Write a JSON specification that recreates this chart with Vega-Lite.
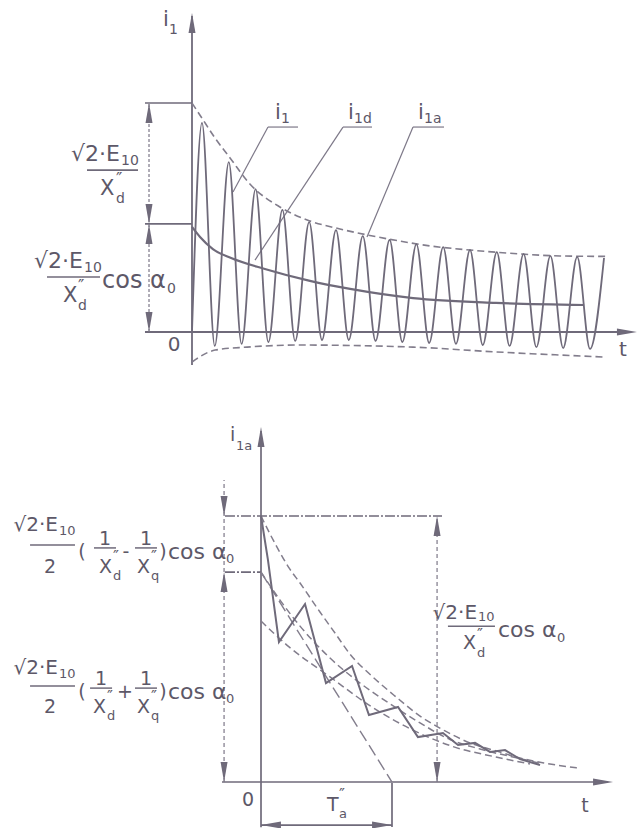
{
  "$schema": "https://vega.github.io/schema/vega-lite/v6.json",
  "padding": 0,
  "spacing": 0,
  "background": "white",
  "config": {"view": {"stroke": null}},
  "resolve": {"scale": {"x": "independent", "y": "independent"}},
  "datasets": {
    "top_curves": [
      {"curve": "i1", "t": 0, "i": 0},
      {"curve": "i1", "t": 0.373, "i": 0.913}, {"curve": "i1", "t": 0.85, "i": -0.061},
      {"curve": "i1", "t": 1.373, "i": 0.742}, {"curve": "i1", "t": 1.85, "i": -0.052},
      {"curve": "i1", "t": 2.373, "i": 0.624}, {"curve": "i1", "t": 2.85, "i": -0.044},
      {"curve": "i1", "t": 3.373, "i": 0.533}, {"curve": "i1", "t": 3.85, "i": -0.039},
      {"curve": "i1", "t": 4.373, "i": 0.48}, {"curve": "i1", "t": 4.85, "i": -0.035},
      {"curve": "i1", "t": 5.373, "i": 0.445}, {"curve": "i1", "t": 5.85, "i": -0.035},
      {"curve": "i1", "t": 6.373, "i": 0.419}, {"curve": "i1", "t": 6.85, "i": -0.039},
      {"curve": "i1", "t": 7.373, "i": 0.402}, {"curve": "i1", "t": 7.85, "i": -0.044},
      {"curve": "i1", "t": 8.373, "i": 0.384}, {"curve": "i1", "t": 8.85, "i": -0.048},
      {"curve": "i1", "t": 9.373, "i": 0.371}, {"curve": "i1", "t": 9.85, "i": -0.052},
      {"curve": "i1", "t": 10.373, "i": 0.358}, {"curve": "i1", "t": 10.85, "i": -0.057},
      {"curve": "i1", "t": 11.373, "i": 0.349}, {"curve": "i1", "t": 11.85, "i": -0.061},
      {"curve": "i1", "t": 12.373, "i": 0.341}, {"curve": "i1", "t": 12.85, "i": -0.066},
      {"curve": "i1", "t": 13.373, "i": 0.332}, {"curve": "i1", "t": 13.85, "i": -0.07},
      {"curve": "i1", "t": 14.373, "i": 0.328}, {"curve": "i1", "t": 14.85, "i": -0.074},
      {"curve": "i1", "t": 15.373, "i": 0.323},
      {"curve": "envelope_upper", "t": 0, "i": 1.0}, {"curve": "envelope_upper", "t": 0.37, "i": 0.934},
      {"curve": "envelope_upper", "t": 0.86, "i": 0.847}, {"curve": "envelope_upper", "t": 1.42, "i": 0.76},
      {"curve": "envelope_upper", "t": 2.16, "i": 0.646}, {"curve": "envelope_upper", "t": 3.28, "i": 0.546},
      {"curve": "envelope_upper", "t": 4.4, "i": 0.485}, {"curve": "envelope_upper", "t": 5.52, "i": 0.45},
      {"curve": "envelope_upper", "t": 6.53, "i": 0.424}, {"curve": "envelope_upper", "t": 7.76, "i": 0.397},
      {"curve": "envelope_upper", "t": 8.88, "i": 0.376}, {"curve": "envelope_upper", "t": 10.37, "i": 0.358},
      {"curve": "envelope_upper", "t": 12.24, "i": 0.341}, {"curve": "envelope_upper", "t": 13.73, "i": 0.332},
      {"curve": "envelope_upper", "t": 15.52, "i": 0.33},
      {"curve": "envelope_lower", "t": 0, "i": -0.131}, {"curve": "envelope_lower", "t": 0.86, "i": -0.079},
      {"curve": "envelope_lower", "t": 2.05, "i": -0.066}, {"curve": "envelope_lower", "t": 4.03, "i": -0.057},
      {"curve": "envelope_lower", "t": 8.25, "i": -0.066}, {"curve": "envelope_lower", "t": 11.34, "i": -0.087},
      {"curve": "envelope_lower", "t": 15.34, "i": -0.109},
      {"curve": "i1a", "t": 0, "i": 0.459}, {"curve": "i1a", "t": 0.3, "i": 0.415},
      {"curve": "i1a", "t": 0.78, "i": 0.362}, {"curve": "i1a", "t": 1.46, "i": 0.323},
      {"curve": "i1a", "t": 2.72, "i": 0.275}, {"curve": "i1a", "t": 4.4, "i": 0.223},
      {"curve": "i1a", "t": 5.9, "i": 0.188}, {"curve": "i1a", "t": 8.25, "i": 0.148},
      {"curve": "i1a", "t": 11.34, "i": 0.127}, {"curve": "i1a", "t": 14.63, "i": 0.118}
    ],
    "top_lines": [
      {"kind": "axis", "t": 0, "i": -0.144, "t2": 0, "i2": 1.38},
      {"kind": "axis", "t": -1.754, "i": 0, "t2": 16.3, "i2": 0},
      {"kind": "reference", "t": -1.754, "i": 1, "t2": 0, "i2": 1},
      {"kind": "reference", "t": -1.754, "i": 0.472, "t2": 0, "i2": 0.472},
      {"kind": "dimension", "t": -1.604, "i": 0, "t2": -1.604, "i2": 1},
      {"kind": "leader", "t": 2.836, "i": 0.895, "t2": 1.53, "i2": 0.611},
      {"kind": "leader", "t": 5.634, "i": 0.895, "t2": 2.351, "i2": 0.314},
      {"kind": "leader", "t": 8.246, "i": 0.895, "t2": 6.53, "i2": 0.415},
      {"kind": "leader", "t": 2.836, "i": 0.895, "t2": 3.955, "i2": 0.895},
      {"kind": "leader", "t": 5.634, "i": 0.895, "t2": 6.716, "i2": 0.895},
      {"kind": "leader", "t": 8.246, "i": 0.895, "t2": 9.403, "i2": 0.895},
      {"kind": "fraction", "t": -3.918, "i": 0.707, "t2": -2.015, "i2": 0.707},
      {"kind": "fraction", "t": -5.41, "i": 0.24, "t2": -3.433, "i2": 0.24}
    ],
    "top_arrows": [
      {"dir": "up", "t": -1.604, "i": 0.956},
      {"dir": "up", "t": -1.604, "i": 0.428},
      {"dir": "up", "t": 0, "i": 1.349},
      {"dir": "down", "t": -1.604, "i": 0.515},
      {"dir": "down", "t": -1.604, "i": 0.044},
      {"dir": "right", "t": 16.23, "i": 0}
    ],
    "top_text": [
      {"part": "numerator", "t": -2.687, "i": 0.777, "label": "√2·E"},
      {"part": "numerator", "t": -4.067, "i": 0.31, "label": "√2·E"},
      {"part": "sub", "t": -2.649, "i": 0.747, "label": "10"},
      {"part": "sub", "t": -4.03, "i": 0.279, "label": "10"},
      {"part": "sub", "t": -2.836, "i": 0.581, "label": "d"},
      {"part": "sub", "t": -4.254, "i": 0.114, "label": "d"},
      {"part": "sub", "t": -0.933, "i": 0.188, "label": "0"},
      {"part": "sub", "t": -0.858, "i": 1.319, "label": "1"},
      {"part": "sub", "t": 3.321, "i": 0.93, "label": "1"},
      {"part": "sub", "t": 6.045, "i": 0.93, "label": "1d"},
      {"part": "sub", "t": 8.657, "i": 0.93, "label": "1a"},
      {"part": "prime", "t": -2.836, "i": 0.664, "label": "″"},
      {"part": "prime", "t": -4.254, "i": 0.197, "label": "″"},
      {"part": "symbol", "t": -3.433, "i": 0.624, "label": "X"},
      {"part": "symbol", "t": -4.813, "i": 0.157, "label": "X"},
      {"part": "symbol", "t": -1.082, "i": 1.362, "label": "i"},
      {"part": "symbol", "t": 3.097, "i": 0.956, "label": "i"},
      {"part": "symbol", "t": 5.821, "i": 0.956, "label": "i"},
      {"part": "symbol", "t": 8.433, "i": 0.956, "label": "i"},
      {"part": "function", "t": -3.358, "i": 0.223, "label": "cos α"},
      {"part": "centered", "t": -0.672, "i": -0.057, "label": "0"},
      {"part": "centered", "t": 16.08, "i": -0.079, "label": "t"}
    ],
    "bottom_curves": [
      {"curve": "i1a", "t": 0, "i": 1.0}, {"curve": "i1a", "t": 0.053, "i": 0.835},
      {"curve": "i1a", "t": 0.137, "i": 0.526}, {"curve": "i1a", "t": 0.336, "i": 0.669},
      {"curve": "i1a", "t": 0.496, "i": 0.372}, {"curve": "i1a", "t": 0.695, "i": 0.436},
      {"curve": "i1a", "t": 0.824, "i": 0.252}, {"curve": "i1a", "t": 1.046, "i": 0.282},
      {"curve": "i1a", "t": 1.198, "i": 0.169}, {"curve": "i1a", "t": 1.389, "i": 0.184},
      {"curve": "i1a", "t": 1.504, "i": 0.139}, {"curve": "i1a", "t": 1.634, "i": 0.147},
      {"curve": "i1a", "t": 1.748, "i": 0.113}, {"curve": "i1a", "t": 1.863, "i": 0.12},
      {"curve": "i1a", "t": 1.977, "i": 0.086}, {"curve": "i1a", "t": 2.13, "i": 0.064},
      {"curve": "upper", "t": 0, "i": 1.0}, {"curve": "upper", "t": 0.122, "i": 0.883},
      {"curve": "upper", "t": 0.214, "i": 0.805}, {"curve": "upper", "t": 0.298, "i": 0.748},
      {"curve": "upper", "t": 0.45, "i": 0.639}, {"curve": "upper", "t": 0.565, "i": 0.56},
      {"curve": "upper", "t": 0.679, "i": 0.481}, {"curve": "upper", "t": 0.847, "i": 0.398},
      {"curve": "upper", "t": 1.023, "i": 0.323}, {"curve": "upper", "t": 1.214, "i": 0.248},
      {"curve": "upper", "t": 1.405, "i": 0.192}, {"curve": "upper", "t": 1.595, "i": 0.147},
      {"curve": "upper", "t": 1.794, "i": 0.117}, {"curve": "upper", "t": 1.977, "i": 0.09},
      {"curve": "upper", "t": 2.168, "i": 0.071}, {"curve": "upper", "t": 2.412, "i": 0.053},
      {"curve": "mean", "t": 0, "i": 0.789}, {"curve": "mean", "t": 0.145, "i": 0.684},
      {"curve": "mean", "t": 0.298, "i": 0.586}, {"curve": "mean", "t": 0.527, "i": 0.466},
      {"curve": "mean", "t": 0.756, "i": 0.372}, {"curve": "mean", "t": 1.0, "i": 0.289},
      {"curve": "mean", "t": 1.214, "i": 0.222}, {"curve": "mean", "t": 1.443, "i": 0.16},
      {"curve": "mean", "t": 1.672, "i": 0.124}, {"curve": "mean", "t": 1.977, "i": 0.088},
      {"curve": "mean", "t": 2.13, "i": 0.07},
      {"curve": "lower", "t": 0, "i": 0.605}, {"curve": "lower", "t": 0.214, "i": 0.508},
      {"curve": "lower", "t": 0.527, "i": 0.395}, {"curve": "lower", "t": 0.847, "i": 0.282},
      {"curve": "lower", "t": 1.16, "i": 0.195}, {"curve": "lower", "t": 1.473, "i": 0.132},
      {"curve": "lower", "t": 1.794, "i": 0.094}, {"curve": "lower", "t": 2.053, "i": 0.068}
    ],
    "bottom_lines": [
      {"kind": "axis", "t": 0, "i": -0.17, "t2": 0, "i2": 1.32},
      {"kind": "axis", "t": -0.298, "i": 0, "t2": 2.65, "i2": 0},
      {"kind": "reference", "t": -0.275, "i": 1, "t2": 1.382, "i2": 1},
      {"kind": "reference", "t": -0.275, "i": 0.789, "t2": 0, "i2": 0.789},
      {"kind": "dimension", "t": -0.282, "i": 0, "t2": -0.282, "i2": 1.135},
      {"kind": "dimension", "t": 1.344, "i": 0, "t2": 1.344, "i2": 1},
      {"kind": "time_constant", "t": 1, "i": -0.004, "t2": 1, "i2": -0.169},
      {"kind": "time_constant", "t": 0, "i": -0.162, "t2": 1, "i2": -0.162},
      {"kind": "tangent", "t": 0, "i": 0.789, "t2": 1, "i2": 0},
      {"kind": "fraction", "t": -1.763, "i": 0.891, "t2": -1.42, "i2": 0.891},
      {"kind": "fraction", "t": -1.275, "i": 0.88, "t2": -1.107, "i2": 0.88},
      {"kind": "fraction", "t": -0.962, "i": 0.88, "t2": -0.794, "i2": 0.88},
      {"kind": "fraction", "t": -1.763, "i": 0.361, "t2": -1.42, "i2": 0.361},
      {"kind": "fraction", "t": -1.305, "i": 0.353, "t2": -1.137, "i2": 0.353},
      {"kind": "fraction", "t": -0.962, "i": 0.353, "t2": -0.794, "i2": 0.353},
      {"kind": "fraction", "t": 1.427, "i": 0.586, "t2": 1.786, "i2": 0.586}
    ],
    "bottom_arrows": [
      {"dir": "up", "t": 0, "i": 1.297},
      {"dir": "up", "t": -0.282, "i": 0.752},
      {"dir": "up", "t": 1.344, "i": 0.962},
      {"dir": "down", "t": -0.282, "i": 1.038},
      {"dir": "down", "t": -0.282, "i": 0.038},
      {"dir": "down", "t": 1.344, "i": 0.038},
      {"dir": "right", "t": 2.611, "i": 0},
      {"dir": "right", "t": 0.924, "i": -0.162},
      {"dir": "left", "t": 0.076, "i": -0.162}
    ],
    "bottom_text": [
      {"part": "numerator", "t": -1.55, "i": 0.966, "label": "√2·E"},
      {"part": "numerator", "t": -1.55, "i": 0.429, "label": "√2·E"},
      {"part": "numerator", "t": 1.649, "i": 0.635, "label": "√2·E"},
      {"part": "sub", "t": -1.542, "i": 0.944, "label": "10"},
      {"part": "sub", "t": -1.542, "i": 0.406, "label": "10"},
      {"part": "sub", "t": 1.656, "i": 0.62, "label": "10"},
      {"part": "sub", "t": -1.13, "i": 0.774, "label": "d"},
      {"part": "sub", "t": -0.84, "i": 0.774, "label": "q"},
      {"part": "sub", "t": -1.176, "i": 0.248, "label": "d"},
      {"part": "sub", "t": -0.84, "i": 0.248, "label": "q"},
      {"part": "sub", "t": 1.649, "i": 0.485, "label": "d"},
      {"part": "sub", "t": -0.268, "i": 0.838, "label": "0"},
      {"part": "sub", "t": -0.268, "i": 0.312, "label": "0"},
      {"part": "sub", "t": 2.26, "i": 0.541, "label": "0"},
      {"part": "sub", "t": -0.191, "i": 1.263, "label": "1a"},
      {"part": "sub", "t": 0.595, "i": -0.121, "label": "a"},
      {"part": "prime", "t": -1.13, "i": 0.846, "label": "″"},
      {"part": "prime", "t": -0.84, "i": 0.846, "label": "″"},
      {"part": "prime", "t": -1.176, "i": 0.32, "label": "″"},
      {"part": "prime", "t": -0.84, "i": 0.32, "label": "″"},
      {"part": "prime", "t": 1.649, "i": 0.553, "label": "″"},
      {"part": "prime", "t": 0.595, "i": -0.049, "label": "″"},
      {"part": "symbol", "t": -1.237, "i": 0.808, "label": "X"},
      {"part": "symbol", "t": -0.947, "i": 0.808, "label": "X"},
      {"part": "symbol", "t": -1.282, "i": 0.282, "label": "X"},
      {"part": "symbol", "t": -0.947, "i": 0.282, "label": "X"},
      {"part": "symbol", "t": 1.542, "i": 0.523, "label": "X"},
      {"part": "symbol", "t": -0.237, "i": 1.305, "label": "i"},
      {"part": "symbol", "t": 0.504, "i": -0.086, "label": "T"},
      {"part": "function", "t": -0.71, "i": 0.865, "label": "cos α"},
      {"part": "function", "t": -0.71, "i": 0.338, "label": "cos α"},
      {"part": "function", "t": 1.809, "i": 0.571, "label": "cos α"},
      {"part": "centered", "t": -1.611, "i": 0.808, "label": "2"},
      {"part": "centered", "t": -1.611, "i": 0.282, "label": "2"},
      {"part": "centered", "t": -1.366, "i": 0.865, "label": "("},
      {"part": "centered", "t": -0.748, "i": 0.865, "label": ")"},
      {"part": "centered", "t": -1.366, "i": 0.338, "label": "("},
      {"part": "centered", "t": -0.748, "i": 0.338, "label": ")"},
      {"part": "centered", "t": -1.191, "i": 0.914, "label": "1"},
      {"part": "centered", "t": -0.878, "i": 0.914, "label": "1"},
      {"part": "centered", "t": -1.221, "i": 0.387, "label": "1"},
      {"part": "centered", "t": -0.878, "i": 0.387, "label": "1"},
      {"part": "centered", "t": -1.031, "i": 0.865, "label": "-"},
      {"part": "centered", "t": -1.038, "i": 0.338, "label": "+"},
      {"part": "centered", "t": -0.099, "i": -0.068, "label": "0"},
      {"part": "centered", "t": 2.473, "i": -0.09, "label": "t"}
    ]
  },
  "vconcat": [
    {
      "width": 642,
      "height": 414,
      "encoding": {
        "x": {"field": "t", "type": "quantitative", "scale": {"domain": [-7.164, 16.791], "nice": false, "zero": false}, "axis": null},
        "y": {"field": "i", "type": "quantitative", "scale": {"domain": [-0.3581, 1.4498], "nice": false, "zero": false}, "axis": null}
      },
      "layer": [
        {"data": {"name": "top_lines"}, "transform": [{"filter": "datum.kind === 'axis'"}], "mark": {"type": "rule", "strokeWidth": 1.8, "color": "#6f6a7a"}, "encoding": {"x2": {"field": "t2"}, "y2": {"field": "i2"}}},
        {"data": {"name": "top_lines"}, "transform": [{"filter": "datum.kind === 'reference' || datum.kind === 'fraction'"}], "mark": {"type": "rule", "strokeWidth": 1.6, "color": "#6f6a7a"}, "encoding": {"x2": {"field": "t2"}, "y2": {"field": "i2"}}},
        {"data": {"name": "top_lines"}, "transform": [{"filter": "datum.kind === 'dimension'"}], "mark": {"type": "rule", "strokeWidth": 1.2, "strokeDash": [3, 2], "color": "#7d7888"}, "encoding": {"x2": {"field": "t2"}, "y2": {"field": "i2"}}},
        {"data": {"name": "top_lines"}, "transform": [{"filter": "datum.kind === 'leader'"}], "mark": {"type": "rule", "strokeWidth": 1.2, "color": "#7d7888"}, "encoding": {"x2": {"field": "t2"}, "y2": {"field": "i2"}}},
        {"data": {"name": "top_curves"}, "transform": [{"filter": "datum.curve === 'envelope_upper' || datum.curve === 'envelope_lower'"}], "mark": {"type": "line", "interpolate": "monotone", "strokeWidth": 1.6, "strokeDash": [7, 4], "color": "#827d8c"}, "encoding": {"detail": {"field": "curve"}}},
        {"data": {"name": "top_curves"}, "transform": [{"filter": "datum.curve === 'i1'"}], "mark": {"type": "line", "interpolate": "monotone", "strokeWidth": 1.8, "color": "#6f6a7a"}, "encoding": {}},
        {"data": {"name": "top_curves"}, "transform": [{"filter": "datum.curve === 'i1a'"}], "mark": {"type": "line", "interpolate": "monotone", "strokeWidth": 2.2, "color": "#6f6a7a"}, "encoding": {}},
        {"data": {"name": "top_arrows"}, "transform": [{"filter": "datum.dir === 'up'"}], "mark": {"type": "point", "shape": "M0,-1L0.35,1L-0.35,1Z", "size": 400, "filled": true, "opacity": 1, "color": "#6f6a7a"}, "encoding": {}},
        {"data": {"name": "top_arrows"}, "transform": [{"filter": "datum.dir === 'down'"}], "mark": {"type": "point", "shape": "M0,1L0.35,-1L-0.35,-1Z", "size": 400, "filled": true, "opacity": 1, "color": "#6f6a7a"}, "encoding": {}},
        {"data": {"name": "top_arrows"}, "transform": [{"filter": "datum.dir === 'right'"}], "mark": {"type": "point", "shape": "M1,0L-1,0.35L-1,-0.35Z", "size": 400, "filled": true, "opacity": 1, "color": "#6f6a7a"}, "encoding": {}},
        {"data": {"name": "top_text"}, "transform": [{"filter": "datum.part === 'numerator'"}], "mark": {"type": "text", "align": "right", "baseline": "middle", "fontSize": 22, "font": "DejaVu Sans", "color": "#5d5868"}, "encoding": {"text": {"field": "label"}}},
        {"data": {"name": "top_text"}, "transform": [{"filter": "datum.part === 'sub'"}], "mark": {"type": "text", "align": "left", "baseline": "middle", "fontSize": 14, "font": "DejaVu Sans", "color": "#5d5868"}, "encoding": {"text": {"field": "label"}}},
        {"data": {"name": "top_text"}, "transform": [{"filter": "datum.part === 'prime'"}], "mark": {"type": "text", "align": "left", "baseline": "middle", "fontSize": 17, "font": "DejaVu Sans", "color": "#5d5868"}, "encoding": {"text": {"field": "label"}}},
        {"data": {"name": "top_text"}, "transform": [{"filter": "datum.part === 'symbol'"}], "mark": {"type": "text", "align": "left", "baseline": "middle", "fontSize": 21, "font": "DejaVu Sans", "color": "#5d5868"}, "encoding": {"text": {"field": "label"}}},
        {"data": {"name": "top_text"}, "transform": [{"filter": "datum.part === 'function'"}], "mark": {"type": "text", "align": "left", "baseline": "middle", "fontSize": 24, "font": "DejaVu Sans", "color": "#5d5868"}, "encoding": {"text": {"field": "label"}}},
        {"data": {"name": "top_text"}, "transform": [{"filter": "datum.part === 'centered'"}], "mark": {"type": "text", "align": "center", "baseline": "middle", "fontSize": 20, "font": "DejaVu Sans", "color": "#5d5868"}, "encoding": {"text": {"field": "label"}}}
      ]
    },
    {
      "width": 642,
      "height": 414,
      "encoding": {
        "x": {"field": "t", "type": "quantitative", "scale": {"domain": [-1.9924, 2.9084], "nice": false, "zero": false}, "axis": null},
        "y": {"field": "i", "type": "quantitative", "scale": {"domain": [-0.1729, 1.3835], "nice": false, "zero": false}, "axis": null}
      },
      "layer": [
        {"data": {"name": "bottom_lines"}, "transform": [{"filter": "datum.kind === 'axis' || datum.kind === 'time_constant'"}], "mark": {"type": "rule", "strokeWidth": 1.7, "color": "#6f6a7a"}, "encoding": {"x2": {"field": "t2"}, "y2": {"field": "i2"}}},
        {"data": {"name": "bottom_lines"}, "transform": [{"filter": "datum.kind === 'reference'"}], "mark": {"type": "rule", "strokeWidth": 1.6, "strokeDash": [10, 2, 2, 2], "color": "#6f6a7a"}, "encoding": {"x2": {"field": "t2"}, "y2": {"field": "i2"}}},
        {"data": {"name": "bottom_lines"}, "transform": [{"filter": "datum.kind === 'fraction'"}], "mark": {"type": "rule", "strokeWidth": 1.5, "color": "#6f6a7a"}, "encoding": {"x2": {"field": "t2"}, "y2": {"field": "i2"}}},
        {"data": {"name": "bottom_lines"}, "transform": [{"filter": "datum.kind === 'dimension'"}], "mark": {"type": "rule", "strokeWidth": 1.2, "strokeDash": [4, 3], "color": "#7d7888"}, "encoding": {"x2": {"field": "t2"}, "y2": {"field": "i2"}}},
        {"data": {"name": "bottom_lines"}, "transform": [{"filter": "datum.kind === 'tangent'"}], "mark": {"type": "rule", "strokeWidth": 1.4, "strokeDash": [12, 5], "color": "#827d8c"}, "encoding": {"x2": {"field": "t2"}, "y2": {"field": "i2"}}},
        {"data": {"name": "bottom_curves"}, "transform": [{"filter": "datum.curve !== 'i1a'"}], "mark": {"type": "line", "interpolate": "monotone", "strokeWidth": 1.5, "strokeDash": [7, 4], "color": "#827d8c"}, "encoding": {"detail": {"field": "curve"}}},
        {"data": {"name": "bottom_curves"}, "transform": [{"filter": "datum.curve === 'i1a'"}], "mark": {"type": "line", "interpolate": "linear", "strokeWidth": 2, "color": "#6f6a7a"}, "encoding": {}},
        {"data": {"name": "bottom_arrows"}, "transform": [{"filter": "datum.dir === 'up'"}], "mark": {"type": "point", "shape": "M0,-1L0.35,1L-0.35,1Z", "size": 400, "filled": true, "opacity": 1, "color": "#6f6a7a"}, "encoding": {}},
        {"data": {"name": "bottom_arrows"}, "transform": [{"filter": "datum.dir === 'down'"}], "mark": {"type": "point", "shape": "M0,1L0.35,-1L-0.35,-1Z", "size": 400, "filled": true, "opacity": 1, "color": "#6f6a7a"}, "encoding": {}},
        {"data": {"name": "bottom_arrows"}, "transform": [{"filter": "datum.dir === 'right'"}], "mark": {"type": "point", "shape": "M1,0L-1,0.35L-1,-0.35Z", "size": 400, "filled": true, "opacity": 1, "color": "#6f6a7a"}, "encoding": {}},
        {"data": {"name": "bottom_arrows"}, "transform": [{"filter": "datum.dir === 'left'"}], "mark": {"type": "point", "shape": "M-1,0L1,0.35L1,-0.35Z", "size": 400, "filled": true, "opacity": 1, "color": "#6f6a7a"}, "encoding": {}},
        {"data": {"name": "bottom_text"}, "transform": [{"filter": "datum.part === 'numerator'"}], "mark": {"type": "text", "align": "right", "baseline": "middle", "fontSize": 20, "font": "DejaVu Sans", "color": "#5d5868"}, "encoding": {"text": {"field": "label"}}},
        {"data": {"name": "bottom_text"}, "transform": [{"filter": "datum.part === 'sub'"}], "mark": {"type": "text", "align": "left", "baseline": "middle", "fontSize": 13, "font": "DejaVu Sans", "color": "#5d5868"}, "encoding": {"text": {"field": "label"}}},
        {"data": {"name": "bottom_text"}, "transform": [{"filter": "datum.part === 'prime'"}], "mark": {"type": "text", "align": "left", "baseline": "middle", "fontSize": 16, "font": "DejaVu Sans", "color": "#5d5868"}, "encoding": {"text": {"field": "label"}}},
        {"data": {"name": "bottom_text"}, "transform": [{"filter": "datum.part === 'symbol'"}], "mark": {"type": "text", "align": "left", "baseline": "middle", "fontSize": 19, "font": "DejaVu Sans", "color": "#5d5868"}, "encoding": {"text": {"field": "label"}}},
        {"data": {"name": "bottom_text"}, "transform": [{"filter": "datum.part === 'function'"}], "mark": {"type": "text", "align": "left", "baseline": "middle", "fontSize": 22, "font": "DejaVu Sans", "color": "#5d5868"}, "encoding": {"text": {"field": "label"}}},
        {"data": {"name": "bottom_text"}, "transform": [{"filter": "datum.part === 'centered'"}], "mark": {"type": "text", "align": "center", "baseline": "middle", "fontSize": 19, "font": "DejaVu Sans", "color": "#5d5868"}, "encoding": {"text": {"field": "label"}}}
      ]
    }
  ]
}
